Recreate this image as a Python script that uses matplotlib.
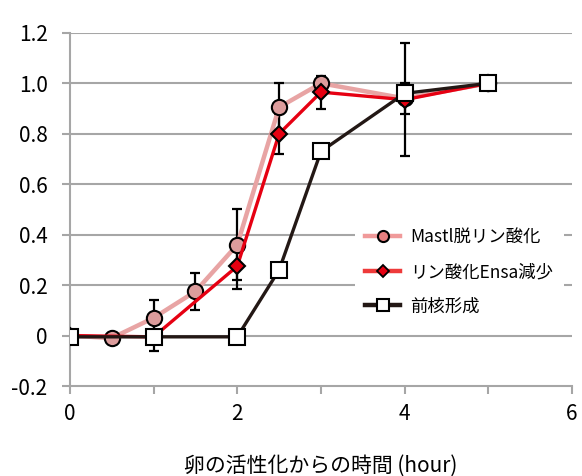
import matplotlib
matplotlib.use("Agg")
import matplotlib.pyplot as plt
from matplotlib.lines import Line2D

plt.rcParams['font.family'] = ['Noto Sans CJK JP', 'DejaVu Sans']

# time after egg activation (hour) and normalised values
t_mastl = [0, 0.5, 1, 1.5, 2, 2.5, 3, 4, 5]
mastl = [0, -0.01, 0.07, 0.175, 0.36, 0.905, 1.0, 0.94, 1.0]
mastl_err = [0, 0, 0.07, 0.075, 0.14, 0.095, 0, 0.06, 0]

t_ensa = [0, 1, 2, 2.5, 3, 4, 5]
ensa = [0, -0.005, 0.275, 0.80, 0.965, 0.935, 1.0]
ensa_err = [0, 0.055, 0.09, 0.08, 0.065, 0.225, 0]

t_nuc = [0, 1, 2, 2.5, 3, 4, 5]
nuc = [-0.005, -0.005, -0.005, 0.26, 0.73, 0.96, 1.0]

labels = ['Mastl脱リン酸化', 'リン酸化Ensa減少', '前核形成']
x_ticks = [0, 1, 2, 3, 4, 5, 6]
x_ticklabels = ['0', '', '2', '', '4', '', '6']
y_ticks = [-0.2, 0, 0.2, 0.4, 0.6, 0.8, 1.0, 1.2]
y_ticklabels = ['-0.2', '0', '0.2', '0.4', '0.6', '0.8', '1.0', '1.2']

pink = '#e8a4a4'
pink_fill = '#dc9c9c'
red = '#e60012'
dark = '#231815'
grid_c = '#a6a6a6'

fig = plt.figure(figsize=(5.82, 4.76), dpi=100)
ax = fig.add_axes([0.120, 0.189, 0.863, 0.742])

ax.set_xlim(0, 6)
ax.set_ylim(-0.2, 1.2)

for yv in y_ticks[1:]:
    ax.axhline(yv, color=grid_c, lw=1.5, zorder=0)

# error bars sit under the markers
ax.errorbar(t_mastl, mastl, yerr=mastl_err, fmt='none', ecolor='black',
            elinewidth=1.6, capsize=3.6, capthick=1.6, zorder=2)
ax.errorbar(t_ensa, ensa, yerr=ensa_err, fmt='none', ecolor='black',
            elinewidth=1.6, capsize=3.6, capthick=1.6, zorder=2)

series = [
    (t_mastl, mastl, pink, 3.2, 'o', pink_fill, 11, 3),
    (t_ensa, ensa, red, 2.4, 'D', red, 8, 4),
    (t_nuc, nuc, dark, 2.4, 's', 'white', 11, 5),
]
for tx, ty, lc, lw, mk, mfc, ms, z in series:
    ax.plot(tx, ty, color=lc, lw=lw, solid_joinstyle='round', zorder=z)
    ax.plot(tx, ty, ls='none', marker=mk, ms=ms, mfc=mfc, mec='black',
            mew=1.5, zorder=z + 0.5)

ax.set_xticks(x_ticks)
ax.set_xticklabels(x_ticklabels)
ax.set_yticks(y_ticks)
ax.set_yticklabels(y_ticklabels)
ax.tick_params(axis='both', colors=grid_c, width=1.5, length=6, labelsize=15,
               labelcolor='black')
ax.tick_params(axis='x', pad=6)
ax.tick_params(axis='y', pad=10)

for s in ['top', 'right']:
    ax.spines[s].set_visible(False)
for s in ['left', 'bottom']:
    ax.spines[s].set_color(grid_c)
    ax.spines[s].set_linewidth(1.5)

ax.set_xlabel('卵の活性化からの時間 (hour)', fontsize=15, labelpad=22)

handles = [
    Line2D([], [], color='#f09a9a', lw=3.2, marker='o', ms=8,
           mfc='#e88080', mec='black', mew=1.5),
    Line2D([], [], color='#ee3a3a', lw=3.2, marker='D', ms=6.5,
           mfc=red, mec='black', mew=1.3),
    Line2D([], [], color=dark, lw=3.2, marker='s', ms=8,
           mfc='white', mec='black', mew=1.5),
]
leg = ax.legend(handles, labels, loc='upper left', bbox_to_anchor=(0.55, 0.50),
                frameon=True, fontsize=12.5, handlelength=2.0,
                labelspacing=0.95, borderpad=0.6, handletextpad=0.6)
leg.get_frame().set_facecolor('white')
leg.get_frame().set_edgecolor('none')
leg.get_frame().set_alpha(1)
leg.set_zorder(1)

fig.savefig('out.png', dpi=100)
